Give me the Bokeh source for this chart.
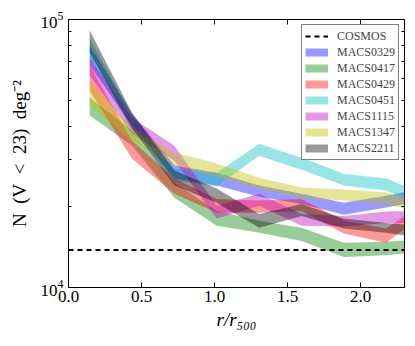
from bokeh.plotting import figure
from bokeh.models import (Range1d, FixedTicker, LinearAxis, Legend, LegendItem,
                          PrintfTickFormatter, ColumnDataSource)
from bokeh.embed import file_html
from bokeh.resources import INLINE

# radial bin centres (r / r500)
r_bins = [0.145, 0.435, 0.725, 1.015, 1.305, 1.595, 1.885, 2.175, 2.465]

clusters = ["MACS0329", "MACS0417", "MACS0429", "MACS0451", "MACS1115", "MACS1347", "MACS2211"]
colors = ["#0000ff", "#008000", "#ff0000", "#00bfbf", "#bf00bf", "#bfbf00", "#000000"]

# lower / upper edges of the density bands, N(V<23) deg^-2
macs0329_lo = [67300, 40200, 25500, 24000, 21800, 20500, 18700, 19900, 21300]
macs0329_hi = [80000, 44500, 28500, 26800, 24000, 22400, 20700, 22000, 23600]
macs0417_lo = [43800, 33800, 21600, 17000, 16000, 14900, 13000, 13200, 13700]
macs0417_hi = [51100, 38500, 24600, 19300, 17750, 16700, 14700, 14800, 15200]
macs0429_lo = [54300, 30200, 22400, 19000, 19000, 19300, 15900, 14700, 19300]
macs0429_hi = [67300, 35300, 25500, 21400, 21100, 21400, 17750, 16600, 21400]
macs0451_lo = [71500, 38500, 25000, 23800, 31000, 27500, 24000, 23000, 19700]
macs0451_hi = [84900, 43800, 27800, 26800, 34400, 30500, 26600, 25500, 22000]
macs1115_lo = [61800, 37500, 29700, 18100, 20200, 17000, 16900, 17400, 17400]
macs1115_hi = [71500, 43000, 33800, 20200, 22400, 18800, 18500, 19200, 19300]
macs1347_lo = [47700, 35300, 28500, 25900, 23400, 21600, 21100, 20500, 18700]
macs1347_hi = [59200, 39200, 31900, 29000, 25700, 23600, 23200, 22600, 20500]
macs2211_lo = [75300, 39200, 24000, 20700, 16700, 18500, 16600, 16000, 15200]
macs2211_hi = [91000, 44900, 27300, 23400, 18800, 20500, 18100, 17400, 16900]

lows = [macs0329_lo, macs0417_lo, macs0429_lo, macs0451_lo, macs1115_lo, macs1347_lo, macs2211_lo]
highs = [macs0329_hi, macs0417_hi, macs0429_hi, macs0451_hi, macs1115_hi, macs1347_hi, macs2211_hi]

cosmos_density = 13800
cosmos_x = [0.0, 2.3]

x_ticks = [0.0, 0.5, 1.0, 1.5, 2.0]
y_ticks = [1e4, 1e5]
y_minor_ticks = [2e4, 3e4, 4e4, 5e4, 6e4, 7e4, 8e4, 9e4]

FONT = "Liberation Serif"

p = figure(frame_width=336, frame_height=268,
           x_range=Range1d(0, 2.3), y_range=Range1d(1e4, 1e5), y_axis_type="log",
           output_backend="svg", toolbar_location=None,
           min_border_left=68, min_border_right=9, min_border_top=19, min_border_bottom=57,
           background_fill_color="white", border_fill_color="white")
p.xgrid.visible = False
p.ygrid.visible = False
p.outline_line_color = "black"
p.outline_line_width = 1

items = []
proxies = []
for name, col, lo, hi in zip(clusters, colors, lows, highs):
    src = ColumnDataSource(dict(x=r_bins, lo=lo, hi=hi))
    p.varea(x="x", y1="lo", y2="hi", source=src, fill_color=col, fill_alpha=0.4)
    # legend swatch: a thick translucent line (hidden in the plot itself)
    proxy = p.line(x="x", y="lo", source=src, line_color=col, line_alpha=0.4,
                   line_width=8, line_cap="butt", visible=False)
    proxies.append((name, proxy))

cosmos_r = p.line(x=cosmos_x, y=[cosmos_density] * len(cosmos_x), line_color="black",
                  line_width=2, line_dash="5 4")
items.append(LegendItem(label="COSMOS", renderers=[cosmos_r]))
for name, proxy in proxies:
    items.append(LegendItem(label=name, renderers=[proxy]))

legend = Legend(items=items, location="top_right", margin=5, padding=3, spacing=0,
                label_height=16, glyph_height=16, glyph_width=23, label_standoff=9,
                label_text_font=FONT, label_text_font_size="12px",
                border_line_color="black", border_line_width=1.3,
                background_fill_color="white", background_fill_alpha=1,
                click_policy="none")
p.add_layout(legend)

# main axes
xa = p.xaxis[0]
xa.ticker = FixedTicker(ticks=x_ticks, minor_ticks=[])
xa.formatter = PrintfTickFormatter(format="%.1f")
ya = p.yaxis[0]
ya.ticker = FixedTicker(ticks=y_ticks, minor_ticks=y_minor_ticks)

for ax in (xa, ya):
    ax.major_tick_in = 5
    ax.major_tick_out = 0
    ax.minor_tick_in = 3
    ax.minor_tick_out = 0
    ax.axis_line_color = None
    ax.major_tick_line_color = "black"
    ax.minor_tick_line_color = "black"
    ax.major_label_text_font = FONT
    ax.major_label_text_font_size = "17px"
    ax.major_label_text_color = "black"
    ax.axis_label_text_font = FONT
    ax.axis_label_text_font_size = "19px"
    ax.axis_label_text_color = "black"

xa.axis_label = "r/r\u2085\u2080\u2080"
xa.axis_label_text_font_style = "italic"
xa.major_label_standoff = 3
xa.axis_label_standoff = 4
ya.axis_label = "N\u2002(V\u2002<\u200223)\u2002deg\u207b\u00b2"
ya.axis_label_text_font_style = "normal"
ya.major_label_standoff = 5
ya.axis_label_standoff = 8

# mirrored tick axes (top / right) without visible labels
top = LinearAxis(ticker=FixedTicker(ticks=x_ticks, minor_ticks=[]),
                 formatter=PrintfTickFormatter(format="%.1f"))
right = LinearAxis(ticker=FixedTicker(ticks=y_ticks, minor_ticks=y_minor_ticks),
                   formatter=PrintfTickFormatter(format="%d"))
for ax in (top, right):
    ax.major_tick_in = 5
    ax.major_tick_out = 0
    ax.minor_tick_in = 3
    ax.minor_tick_out = 0
    ax.axis_line_color = None
    ax.major_label_text_font_size = "1px"
    ax.major_label_text_alpha = 0
    ax.major_label_standoff = 0
    ax.major_tick_line_color = "black"
    ax.minor_tick_line_color = "black"
p.add_layout(top, "above")
p.add_layout(right, "right")

open("out.html", "w").write(file_html(p, INLINE))
